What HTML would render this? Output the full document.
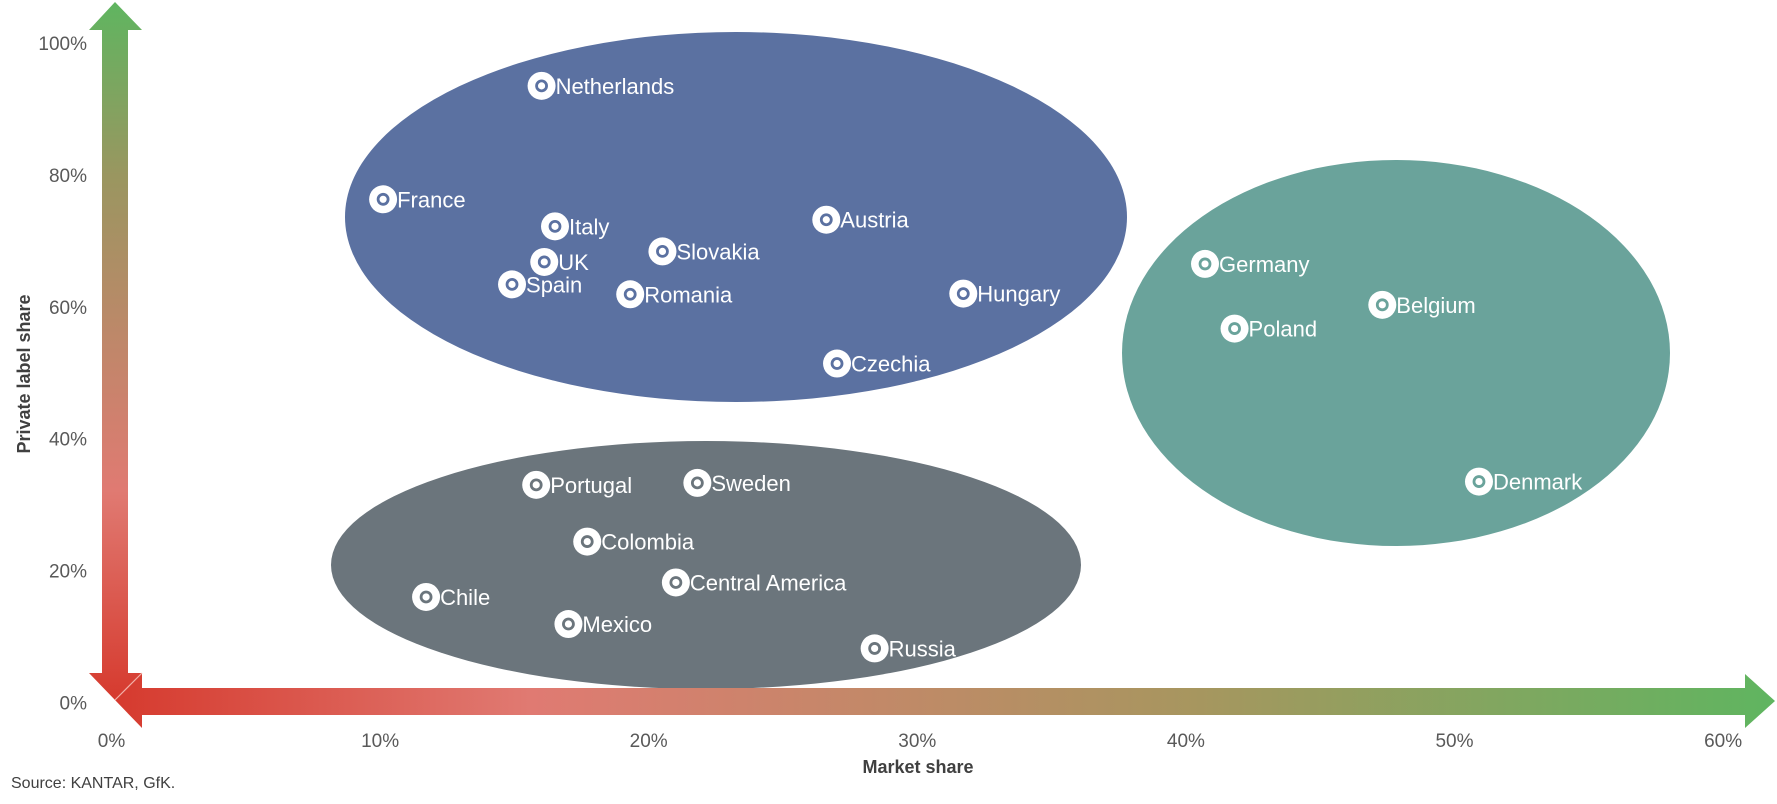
<!DOCTYPE html>
<html><head><meta charset="utf-8"><style>
html,body{margin:0;padding:0;background:#fff}
svg{display:block;font-family:"Liberation Sans",sans-serif}
</style></head><body>
<svg id="chart" width="1777" height="804" viewBox="0 0 1777 804">
<defs>
<linearGradient id="gv" x1="0" y1="0" x2="0" y2="1">
<stop offset="0" stop-color="#5fb560"/><stop offset="0.25" stop-color="#9a9660"/><stop offset="0.7" stop-color="#e07a72"/><stop offset="1" stop-color="#d63a2e"/></linearGradient>
<linearGradient id="gh" x1="0" y1="0" x2="1" y2="0">
<stop offset="0" stop-color="#d63a2e"/><stop offset="0.25" stop-color="#e07a72"/><stop offset="0.65" stop-color="#a7965f"/><stop offset="1" stop-color="#5fb560"/></linearGradient>
</defs>
<g id="clusters">
<ellipse cx="736" cy="217" rx="391" ry="185" fill="#5b71a1"/>
<ellipse cx="706" cy="565" rx="375" ry="124" fill="#6b757c"/>
<ellipse cx="1396" cy="353" rx="274" ry="193" fill="#6aa39b"/>
</g>
<polygon points="115,2 142,30 128,30 128,673 142,673 115,700 89,673 102,673 102,30 89,30" fill="url(#gv)"/>
<polygon points="115,700 142,673 142,688 1745,688 1745,674 1775,701 1745,728 1745,715 142,715 142,728" fill="url(#gh)"/>
<line x1="115" y1="700" x2="142" y2="673" stroke="#f2b0a8" stroke-width="1.2"/>
<g id="yticks"></g>
<g id="xticks"></g>
<g id="points"></g>
<text x="30" y="374" transform="rotate(-90 30 374)" text-anchor="middle" font-size="18" font-weight="bold" fill="#404040">Private label share</text>
<text x="918" y="773" text-anchor="middle" font-size="18" font-weight="bold" fill="#404040">Market share</text>
<text x="11" y="788" font-size="16" fill="#404040">Source: KANTAR, GfK.</text>
</svg>
<script>
const countries = ["Netherlands","France","Italy","Slovakia","UK","Spain","Romania","Austria","Hungary","Czechia","Germany","Belgium","Poland","Denmark","Portugal","Sweden","Colombia","Central America","Chile","Mexico","Russia"];
const marketShare = [15.9,10.0,16.4,20.4,16.0,14.8,19.2,26.5,31.6,26.9,40.6,47.2,41.7,50.8,15.7,21.7,17.6,20.9,11.6,16.9,28.3];
const privateLabelShare = [93.5,76.3,72.2,68.4,66.8,63.4,61.9,73.2,62.0,51.4,66.5,60.3,56.7,33.5,33.0,33.3,24.4,18.2,16.0,11.9,8.2];
const ringColors = ["#5b71a1","#5b71a1","#5b71a1","#5b71a1","#5b71a1","#5b71a1","#5b71a1","#5b71a1","#5b71a1","#5b71a1","#6aa39b","#6aa39b","#6aa39b","#6aa39b","#6b757c","#6b757c","#6b757c","#6b757c","#6b757c","#6b757c","#6b757c"];
const xTicks = [0,10,20,30,40,50,60];
const yTicks = [0,20,40,60,80,100];
const NS="http://www.w3.org/2000/svg";
const xS = v => 114.5 + v*26.86;
const yS = v => 702.5 - v*6.595;
const yt=document.getElementById('yticks');
yTicks.forEach(t=>{const e=document.createElementNS(NS,'text');
e.setAttribute('x',87);e.setAttribute('y',yS(t)+7);e.setAttribute('text-anchor','end');
e.setAttribute('font-size','19');e.setAttribute('fill','#595959');e.textContent=t+'%';


yt.appendChild(e);});
const xt=document.getElementById('xticks');
xTicks.forEach(t=>{const e=document.createElementNS(NS,'text');
e.setAttribute('x',xS(t)-3);e.setAttribute('y',747);e.setAttribute('text-anchor','middle');
e.setAttribute('font-size','19');e.setAttribute('fill','#595959');e.textContent=t+'%';


xt.appendChild(e);});
const pg=document.getElementById('points');
countries.forEach((c,i)=>{const x=xS(marketShare[i]),y=yS(privateLabelShare[i]);
const g=document.createElementNS(NS,'g');


const o=document.createElementNS(NS,'circle');o.setAttribute('cx',x);o.setAttribute('cy',y);o.setAttribute('r',14);o.setAttribute('fill','#fff');


const r=document.createElementNS(NS,'circle');r.setAttribute('cx',x);r.setAttribute('cy',y);r.setAttribute('r',5);r.setAttribute('fill','#fff');r.setAttribute('stroke',ringColors[i]);r.setAttribute('stroke-width','2.8');


const t=document.createElementNS(NS,'text');t.setAttribute('x',x+14);t.setAttribute('y',y+8);t.setAttribute('font-size','22');t.setAttribute('fill','#fff');t.textContent=c;


g.appendChild(o);g.appendChild(r);g.appendChild(t);pg.appendChild(g);});
</script>
</body></html>
